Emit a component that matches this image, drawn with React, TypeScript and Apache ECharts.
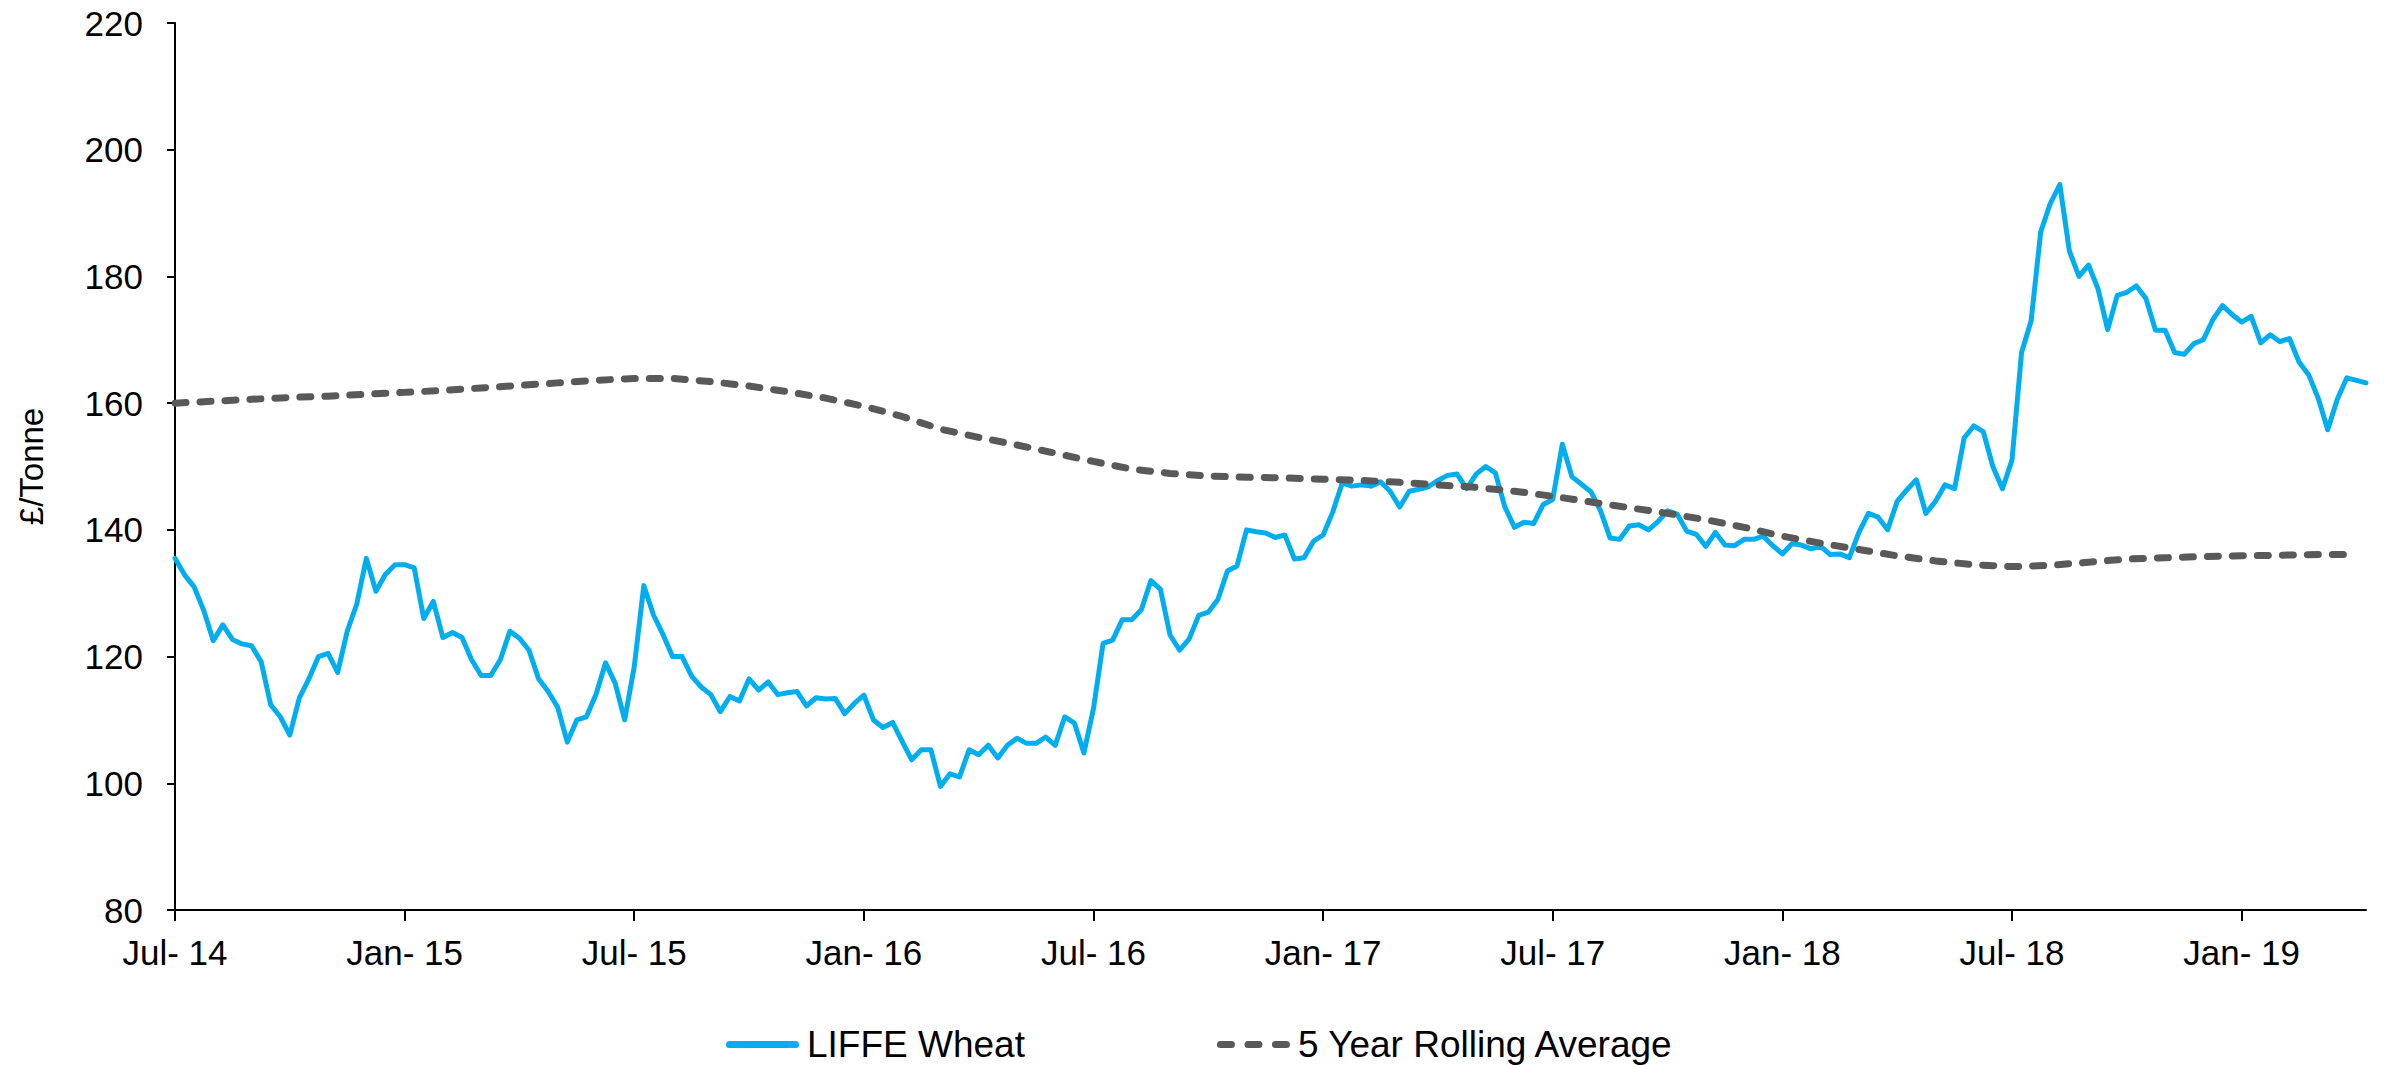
import React, { useEffect, useRef } from "react";
import * as echarts from "echarts";

// X axis: months elapsed since July 2014; ticks every 6 months
const tickLabels = [
  "Jul- 14", "Jan- 15", "Jul- 15", "Jan- 16", "Jul- 16",
  "Jan- 17", "Jul- 17", "Jan- 18", "Jul- 18", "Jan- 19",
];
const tickStepMonths = 6;
const axisEndMonths = 57.25; // ~early April 2019

// LIFFE Wheat, £/tonne, one value per quarter month (≈ weekly) from Jul 2014
const wheatStepMonths = 0.25;
const liffeWheat = [
  135.5, 132.9, 131, 127.3, 122.5, 125, 122.7, 122, 121.7, 119.2,
  112.4, 110.5, 107.6, 113.5, 116.5, 120, 120.5, 117.5, 124, 128.3,
  135.5, 130.3, 133, 134.5, 134.5, 134, 126, 128.7, 123, 123.8,
  123, 119.5, 117, 117, 119.5, 124, 122.9, 121, 116.5, 114.5,
  112, 106.5, 110, 110.5, 114, 119, 115.8, 110, 118.4, 131.2,
  126.6, 123.5, 120, 120, 116.9, 115.2, 114, 111.3, 113.7, 113,
  116.5, 114.7, 116, 114, 114.3, 114.5, 112.2, 113.5, 113.3, 113.4,
  111, 112.6, 113.9, 110, 108.8, 109.6, 106.6, 103.7,
  105.3, 105.3, 99.5, 101.5, 101, 105.3, 104.5, 106, 104, 106,
  107.1, 106.3, 106.3, 107.3, 106, 110.5, 109.5, 104.8, 111.8, 122.1,
  122.6, 125.8, 125.8, 127.4, 132, 130.6, 123.4, 121, 122.8, 126.5,
  127, 129, 133.5, 134.3, 140, 139.7, 139.5, 138.8, 139.2,
  135.4, 135.6, 138.2, 139.2, 142.8, 147.4, 146.9, 147.1, 146.9, 147.6,
  146.1, 143.6, 146.1, 146.4, 146.8, 147.8, 148.6, 148.8, 146.5, 148.8,
  150, 149, 143.6, 140.4, 141.2, 141, 144, 144.8, 153.5, 148.4,
  147.2, 146, 143, 138.7, 138.5, 140.6, 140.8, 140, 141.3, 143,
  142.5, 139.8, 139.3,
  137.4, 139.6, 137.6, 137.5, 138.5, 138.5, 139, 137.5, 136.2, 137.8,
  137.6, 137, 137.4, 136.1, 136.2, 135.6, 139.6, 142.6, 142, 140,
  144.5, 146.3, 147.9, 142.6, 144.5, 147.1, 146.5, 154.5, 156.4, 155.5,
  150,
  146.5, 151, 168, 173, 187, 191.5, 194.5, 184, 180, 181.8,
  178, 171.6, 177, 177.5, 178.5, 176.5, 171.5, 171.5, 168, 167.7,
  169.4, 170, 173.2, 175.4, 174, 172.8, 173.7, 169.5, 170.8, 169.7,
  170.2, 166.5, 164.5, 160.8, 155.8, 160.6, 164, 163.6, 163.2,
];

// 5 Year Rolling Average, £/tonne, one value per month from Jul 2014
const avgStepMonths = 1;
const rollingAverage = [
  160.0, 160.3, 160.6, 160.9, 161.1, 161.4, 161.7, 162.0, 162.4, 162.8,
  163.2, 163.6, 163.9, 163.9, 163.4, 162.7, 161.8, 160.8, 159.5, 157.9,
  155.9, 154.6, 153.4, 152.1, 150.8, 149.6, 148.9, 148.5, 148.3, 148.2,
  148.0, 147.8, 147.5, 147.1, 146.7, 146.1, 145.3, 144.4, 143.5, 142.6,
  141.6, 140.4, 139.0, 137.9, 136.9, 135.9, 135.1, 134.5, 134.2, 134.4,
  134.9, 135.4, 135.6, 135.8, 135.9, 136.0, 136.1, 136.1,
];

const seriesNames = ["LIFFE Wheat", "5 Year Rolling Average"];
const yMin = 80;
const yMax = 220;
const yInterval = 20;

const wheatColor = "#00AEEF";
const avgColor = "#595959";

// legend icons (73 x 7 units): solid bar, and three rounded dashes
const solidIcon = "path://M3.5,0h66a3.5,3.5 0 0 1 0,7h-66a3.5,3.5 0 0 1 0,-7z";
const dashIcon =
  "path://M3.5,0h11a3.5,3.5 0 0 1 0,7h-11a3.5,3.5 0 0 1 0,-7z" +
  "M31,0h11a3.5,3.5 0 0 1 0,7h-11a3.5,3.5 0 0 1 0,-7z" +
  "M58.5,0h11a3.5,3.5 0 0 1 0,7h-11a3.5,3.5 0 0 1 0,-7z";

export default function App() {
  const ref = useRef<HTMLDivElement>(null);

  useEffect(() => {
    if (!ref.current) return;
    const chart = echarts.init(ref.current, null, { renderer: "svg" });
    const font = "'Liberation Sans', Arial, Helvetica, sans-serif";
    const tickValues = tickLabels.map((_, i) => i * tickStepMonths);
    const axisLineStyle = { color: "#000000", width: 2 };

    chart.setOption({
      animation: false,
      backgroundColor: "#ffffff",
      textStyle: { fontFamily: font },
      grid: { left: 175, right: 18, top: 23, bottom: 155 },
      legend: {
        data: [
          { name: seriesNames[0], icon: solidIcon, itemStyle: { color: wheatColor, borderWidth: 0 } },
          { name: seriesNames[1], icon: dashIcon, itemStyle: { color: avgColor, borderWidth: 0 } },
        ],
        left: 726,
        top: 1026,
        padding: 0,
        itemWidth: 73,
        itemHeight: 7,
        itemGap: 192,
        itemStyle: { borderWidth: 0 },
        textStyle: { fontSize: 37, color: "#000000", fontFamily: font, padding: [0, 0, 0, 3] },
      },
      xAxis: {
        type: "value",
        min: 0,
        max: axisEndMonths,
        interval: tickStepMonths,
        axisLine: { show: true, onZero: false, lineStyle: axisLineStyle },
        axisTick: {
          show: true,
          length: 11,
          lineStyle: axisLineStyle,
          customValues: tickValues,
        },
        axisLabel: {
          customValues: tickValues,
          formatter: (v: number) => tickLabels[Math.round(v / tickStepMonths)] ?? "",
          fontSize: 35,
          color: "#000000",
          margin: 25,
          fontFamily: font,
        },
        splitLine: { show: false },
      },
      yAxis: {
        type: "value",
        min: yMin,
        max: yMax,
        interval: yInterval,
        name: "£/Tonne",
        nameLocation: "middle",
        nameGap: 127,
        nameTextStyle: { fontSize: 33, color: "#000000", fontFamily: font },
        axisLine: { show: true, lineStyle: axisLineStyle },
        axisTick: { show: true, length: 8, lineStyle: axisLineStyle },
        axisLabel: { fontSize: 35, color: "#000000", margin: 32, fontFamily: font },
        splitLine: { show: false },
      },
      series: [
        {
          name: seriesNames[0],
          type: "line",
          data: liffeWheat.map((v, i) => [i * wheatStepMonths, v]),
          symbol: "none",
          showSymbol: false,
          lineStyle: { color: wheatColor, width: 5, join: "round", cap: "round" },
          itemStyle: { color: wheatColor },
        },
        {
          name: seriesNames[1],
          type: "line",
          data: rollingAverage.map((v, i) => [i * avgStepMonths, v]),
          symbol: "none",
          showSymbol: false,
          lineStyle: { color: avgColor, width: 7, type: [11, 14], cap: "round" },
          itemStyle: { color: avgColor },
        },
      ],
    });

    return () => chart.dispose();
  }, []);

  return (
    <div
      ref={ref}
      style={{ position: "fixed", left: 0, top: 0, width: 2384, height: 1065 }}
    />
  );
}
